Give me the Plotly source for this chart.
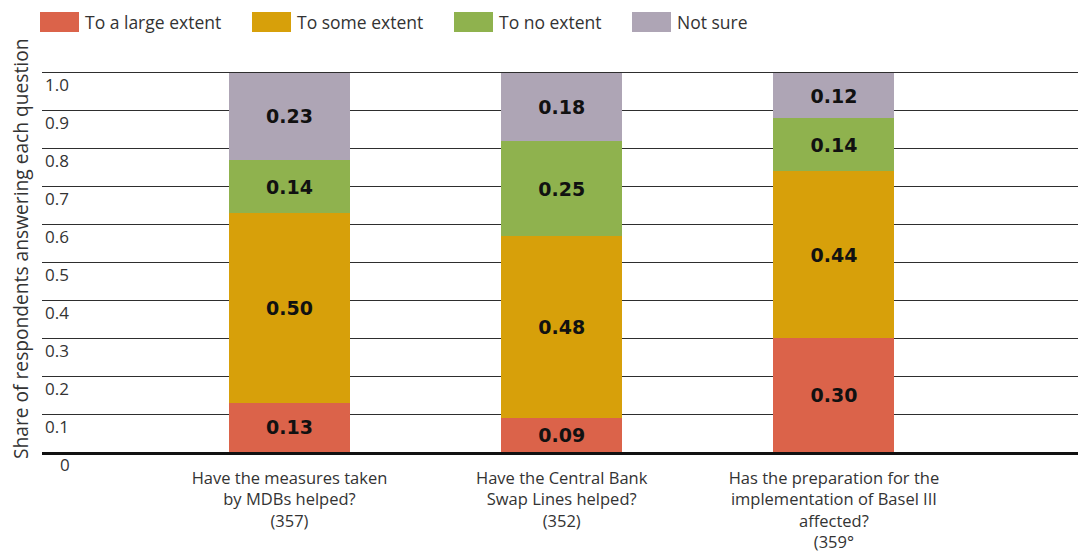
import plotly.graph_objects as go

categories = [
    "Have the measures taken<br>by MDBs helped?<br>(357)",
    "Have the Central Bank<br>Swap Lines helped?<br>(352)",
    "Has the preparation for the<br>implementation of Basel III<br>affected?<br>(359°",
]
series_names = ["To a large extent", "To some extent", "To no extent", "Not sure"]
large_extent = [0.13, 0.09, 0.30]
some_extent = [0.50, 0.48, 0.44]
no_extent = [0.14, 0.25, 0.14]
not_sure = [0.23, 0.18, 0.12]
y_ticks = [0, 0.1, 0.2, 0.3, 0.4, 0.5, 0.6, 0.7, 0.8, 0.9, 1.0]
y_tick_labels = ["0", "0.1", "0.2", "0.3", "0.4", "0.5", "0.6", "0.7", "0.8", "0.9", "1.0"]
y_title = "Share of respondents answering each question"

# styling / layout constants
colors = ["#db634a", "#d7a00a", "#8fb24e", "#aea5b5"]
FONT = "Open Sans, Liberation Sans, Arial, sans-serif"
BOLD_FONT = "DejaVu Sans, Liberation Sans, sans-serif"
TEXT_COL = "#333333"

# The page adds an 8px body margin, so the figure is 8px smaller than the window
W, H = 1078, 546
ML, MR, MT, MB = 34, 0, 63, 102
PW, PH = W - ML - MR, H - MT - MB


def px_x(sx):  # screen px -> paper x
    return (sx - 8 - ML) / PW


def px_y(sy):  # screen px -> paper y
    return (H - MB - (sy - 8)) / PH


fig = go.Figure()
for name, vals, col in zip(series_names, [large_extent, some_extent, no_extent, not_sure], colors):
    fig.add_trace(go.Bar(
        name=name,
        x=categories,
        y=vals,
        width=0.445,
        marker=dict(color=col, line=dict(width=0)),
        texttemplate="<b>%{y:.2f}</b>",
        textposition="inside",
        insidetextanchor="middle",
        textangle=0,
        textfont=dict(family=BOLD_FONT, size=19, color="#111111"),
        constraintext="none",
        showlegend=False,
    ))

annotations = []
shapes = []
for v, lab in zip(y_ticks, y_tick_labels):
    annotations.append(dict(
        xref="paper", yref="y", x=px_x(43), y=v, yshift=-12,
        xshift=15 if v == 0 else 0,
        text=lab, showarrow=False, xanchor="left", yanchor="middle",
        font=dict(family=FONT, size=17, color=TEXT_COL),
    ))
annotations.append(dict(
    xref="paper", yref="paper", x=px_x(20), y=px_y(249),
    text=y_title, textangle=-90,
    showarrow=False, xanchor="center", yanchor="middle",
    font=dict(family=FONT, size=19.2, color=TEXT_COL),
))

# manual legend (wide swatches as in the original)
legend_x = [40, 252, 454, 632]
for name, col, lx in zip(series_names, colors, legend_x):
    shapes.append(dict(
        type="rect", xref="paper", yref="paper",
        x0=px_x(lx), x1=px_x(lx + 39), y0=px_y(32), y1=px_y(12),
        fillcolor=col, line=dict(width=0),
    ))
    annotations.append(dict(
        xref="paper", yref="paper", x=px_x(lx + 43), y=px_y(22),
        text=name, showarrow=False, xanchor="left", yanchor="middle",
        font=dict(family=FONT, size=17.5, color=TEXT_COL),
    ))

fig.update_layout(
    width=W, height=H,
    barmode="stack",
    paper_bgcolor="white", plot_bgcolor="white",
    margin=dict(l=ML, r=MR, t=MT, b=MB, autoexpand=False),
    font=dict(family=FONT, size=17, color=TEXT_COL),
    uniformtext=dict(minsize=19, mode="show"),
    showlegend=False,
    xaxis=dict(
        range=[-0.909, 2.926],
        showgrid=False, zeroline=False,
        showline=True, linecolor="#111111", linewidth=3,
        ticks="", tickfont=dict(family=FONT, size=16.5, color=TEXT_COL),
        ticklabelstandoff=9,
    ),
    yaxis=dict(
        range=[0, 1.005],
        tickvals=y_ticks, showticklabels=False,
        showgrid=True, gridcolor="#2e2e2e", gridwidth=1,
        zeroline=False, ticks="",
    ),
    annotations=annotations,
    shapes=shapes,
)

fig.write_html("out.html")
